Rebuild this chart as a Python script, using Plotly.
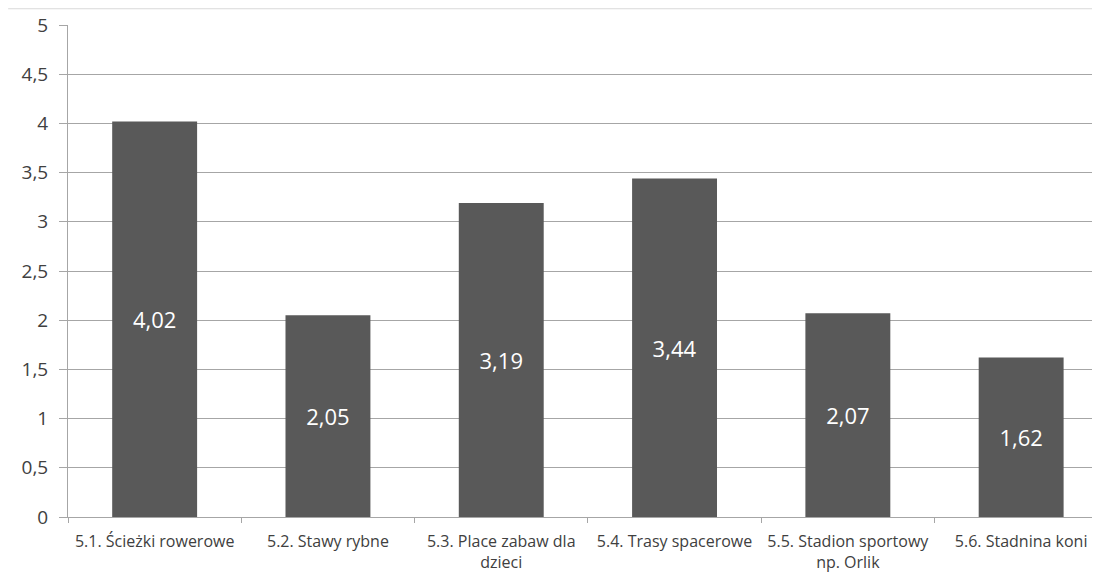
import plotly.graph_objects as go

categories = ["5.1. Ścieżki rowerowe", "5.2. Stawy rybne", "5.3. Place zabaw dla<br>dzieci",
              "5.4. Trasy spacerowe", "5.5. Stadion sportowy<br>np. Orlik", "5.6. Stadnina koni"]
values = [4.02, 2.05, 3.19, 3.44, 2.07, 1.62]
labels = ["4,02", "2,05", "3,19", "3,44", "2,07", "1,62"]
yticks = [0, 0.5, 1, 1.5, 2, 2.5, 3, 3.5, 4, 4.5, 5]
yticklabels = ["0", "0,5", "1", "1,5", "2", "2,5", "3", "3,5", "4", "4,5", "5"]

font = "Open Sans, sans-serif"

fig = go.Figure(go.Bar(
    x=categories, y=values, text=labels, textposition="inside",
    insidetextanchor="middle", textangle=0,
    textfont=dict(color="white", size=22, family=font),
    marker=dict(color="#595959", line=dict(width=0)),
))

# page body has an 8px margin, so the figure is sized/offset to compensate
fig.update_layout(
    width=1092, height=564,
    margin=dict(l=60, r=0, t=17, b=55, autoexpand=False),
    plot_bgcolor="white", paper_bgcolor="white",
    bargap=0.51, showlegend=False,
    font=dict(family=font, color="#404040"),
    xaxis=dict(range=[-0.5, 5.455], tickson="boundaries", ticks="outside", ticklen=5,
               tickcolor="#a6a6a6", showline=True, linecolor="#a6a6a6", linewidth=1,
               tickfont=dict(size=16, color="#404040"), showgrid=False, tickangle=0,
               ticklabelstandoff=10, automargin=False),
    yaxis=dict(range=[0, 5], tickvals=yticks, ticktext=yticklabels, ticks="outside",
               ticklen=8, tickcolor="#a6a6a6", showline=True, linecolor="#a6a6a6",
               gridcolor="#a6a6a6", gridwidth=1, zeroline=False,
               tickfont=dict(size=19, color="#404040"), ticklabelstandoff=7,
               automargin=False),
    shapes=[dict(type="line", xref="paper", yref="paper", x0=-0.058, x1=1.0,
                 y0=1.033, y1=1.033, line=dict(color="#d9d9d9", width=1))],
)

fig.write_html("out.html")
